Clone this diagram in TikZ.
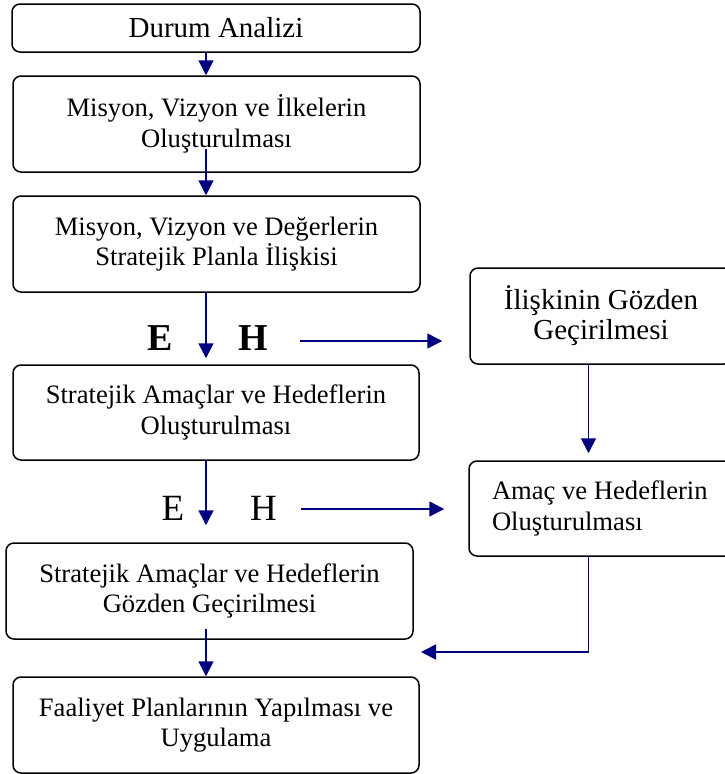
\documentclass[tikz,border=0pt]{standalone}
\usepackage{fontspec}
\setmainfont{Liberation Serif}
\usetikzlibrary{arrows.meta}
\definecolor{flow}{RGB}{0,0,128}
\begin{document}
\begin{tikzpicture}[x=1pt,y=-1pt,
  box/.style={draw=black, line width=1.5pt, rounded corners=8pt, inner sep=0pt,
    align=center, font=\fontsize{26.6}{30.6}\selectfont},
  bigbox/.style={box, font=\fontsize{29}{30}\selectfont},
  arr/.style={draw=flow, line width=1.6pt, -{Triangle[length=15pt,width=15pt]}},
  lbl/.style={anchor=base, inner sep=0pt},
]
\useasboundingbox (0,0) rectangle (725,774);

% main column
\node[bigbox, minimum width=408pt, minimum height=48pt] (b1) at (216,28) {Durum Analizi};
\node[box, minimum width=407pt, minimum height=96pt] (b2) at (216.5,124)
  {Misyon, Vizyon ve İlkelerin\\Oluşturulması};
\node[box, minimum width=407pt, minimum height=96pt] (b3) at (216.5,244)
  {Misyon, Vizyon ve Değerlerin\\Stratejik Planla İlişkisi};
\node[box, minimum width=406pt, minimum height=95pt] (b4) at (216,412.5)
  {Stratejik Amaçlar ve Hedeflerin\\Oluşturulması};
\node[box, minimum width=407pt, minimum height=96pt] (b5) at (209.5,591)
  {Stratejik Amaçlar ve Hedeflerin\\Gözden Geçirilmesi};
\node[box, minimum width=406pt, minimum height=96pt] (b6) at (216,725)
  {Faaliyet Planlarının Yapılması ve\\Uygulama};

% side column
\node[bigbox, minimum width=262pt, minimum height=96pt] (r1) at (601,316)
  {İlişkinin Gözden\\Geçirilmesi};
\node[box, minimum width=266pt, minimum height=95pt, align=flush left, text width=220pt] (r2) at (602,508.5)
  {Amaç ve Hedeflerin\\Oluşturulması};

% branch labels
\node[lbl, font=\fontsize{38}{40}\selectfont\bfseries] (e1) at (160,350) {E};
\node[lbl, font=\fontsize{38}{40}\selectfont\bfseries] (h1) at (253,350) {H};
\node[lbl, font=\fontsize{37}{40}\selectfont] (e2) at (173,520) {E};
\node[lbl, font=\fontsize{37}{40}\selectfont] (h2) at (263.5,520) {H};

% guide coordinates for the connectors
\coordinate (ax) at (206,0);
\coordinate (rx) at (588.5,0);
\coordinate (h1s) at (300,341);
\coordinate (h2s) at (301,509);
\coordinate (ret) at (421,652);

% main flow
\draw[arr] (b1.south -| ax) -- (b2.north -| ax);
\draw[arr] ([yshift=24pt]b2.south -| ax) -- (b3.north -| ax);
\draw[arr, shorten >=6pt] (b3.south -| ax) -- (b4.north -| ax);
\draw[arr, shorten >=17pt] (b4.south -| ax) -- (b5.north -| ax);
\draw[arr] ([yshift=11pt]b5.south -| ax) -- (b6.north -| ax);

% side branch
\draw[arr, shorten >=27pt] (h1s) -- (h1s -| r1.west);
\draw[arr, shorten >=24pt] (h2s) -- (h2s -| r2.west);
\draw[arr, shorten >=7pt] (r1.south -| rx) -- (r2.north -| rx);
\draw[arr] (r2.south -| rx) |- (ret);
\end{tikzpicture}
\end{document}
